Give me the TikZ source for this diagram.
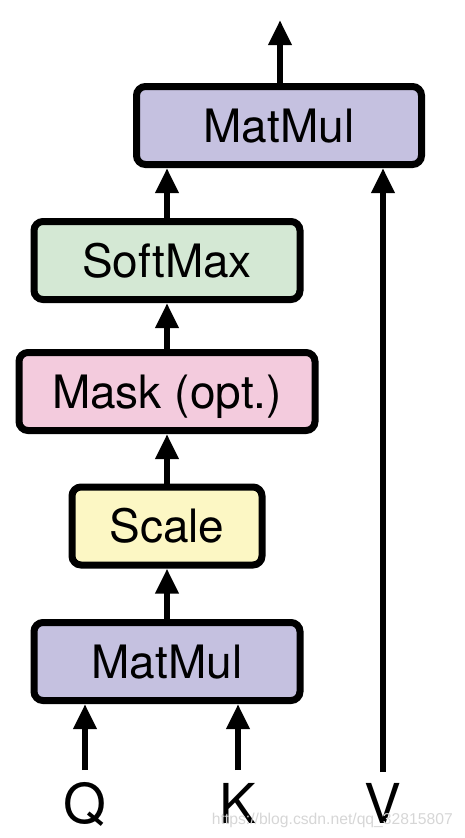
\documentclass[tikz,border=0pt]{standalone}
\usepackage{fontspec}
\setmainfont{TeX Gyre Heros}
\newfontfamily\wmfont{Liberation Sans}
\usetikzlibrary{arrows.meta}
\definecolor{mmcol}{HTML}{C5C1E0}
\definecolor{smcol}{HTML}{D4E8D4}
\definecolor{mkcol}{HTML}{F3CBDD}
\definecolor{sccol}{HTML}{FCF7C4}
\definecolor{wmcol}{HTML}{D6D6D6}
\tikzset{
  opbox/.style={draw=black, line width=7pt, rounded corners=9pt, inner sep=0pt,
    minimum height=78pt, text height=33pt, text depth=0pt,
    font=\fontsize{46}{50}\selectfont},
  flow/.style={line width=6.5pt, -{Triangle[length=25pt,width=22pt]}},
  lbl/.style={inner sep=0pt, font=\fontsize{55}{60}\selectfont, text height=40pt, text depth=0pt}
}
\begin{document}
\begin{tikzpicture}[x=1pt,y=-1pt]
\useasboundingbox (0,0) rectangle (464,838);
\node[opbox, fill=mmcol, minimum width=285pt] (mm2) at (279,125.5) {MatMul};
\node[opbox, fill=smcol, minimum width=266pt] (sm) at (167,260.5) {SoftMax};
\node[opbox, fill=mkcol, minimum width=296pt] (mk) at (167,391.5) {Mask (opt.)};
\node[opbox, fill=sccol, minimum width=190pt] (sc) at (167,526) {Scale};
\node[opbox, fill=mmcol, minimum width=266pt] (mm1) at (167,661.5) {MatMul};
\node[lbl] (q) at (85,803) {Q};
\node[lbl] (k) at (238,803) {K};
\node[lbl] (v) at (383,803) {V};
\coordinate (out) at (280,20);
\coordinate (qs) at (85,770);
\coordinate (ks) at (238,770);
\coordinate (vs) at (383,772);
\draw[flow] (mm2.north -| out) -- (out);
\draw[flow] (sm.north) -- (sm.north |- mm2.south);
\draw[flow] (mk.north) -- (sm.south);
\draw[flow] (sc.north) -- (mk.south);
\draw[flow] (mm1.north) -- (sc.south);
\draw[flow] (qs) -- (qs |- mm1.south);
\draw[flow] (ks) -- (ks |- mm1.south);
\draw[flow] (vs) -- (vs |- mm2.south);
\node[anchor=base east, inner sep=0pt, text=wmcol, font=\wmfont\fontsize{15.7}{18}\selectfont] (wm) at (453,824) {https://blog.csdn.net/qq\_32815807};
\end{tikzpicture}
\end{document}
